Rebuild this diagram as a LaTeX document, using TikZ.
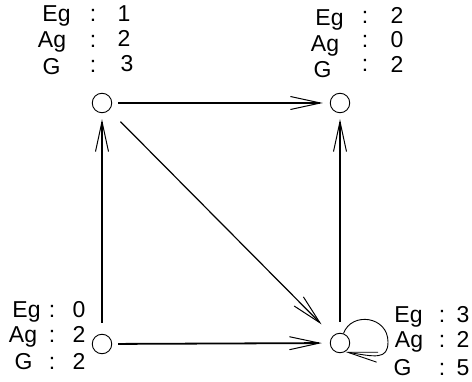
\documentclass[tikz,border=0pt]{standalone}
\usepackage{fontspec}
\setmainfont{Liberation Sans}
\usetikzlibrary{arrows.meta}
\begin{document}
\begin{tikzpicture}[x=1pt,y=-1pt,
  state/.style={circle,draw,line width=0.9pt,minimum size=19.5pt,inner sep=0pt},
  edge/.style={line width=1.8pt,-{Straight Barb[length=30pt,width=13pt,line width=1pt]}},
  lbl/.style={anchor=base,inner sep=0pt,font=\fontsize{23}{27}\selectfont}]
\useasboundingbox (0,0) rectangle (472,382);
% states
\node[state] (tl) at (102,103) {};
\node[state] (tr) at (340,103) {};
\node[state] (bl) at (102,344) {};
\node[state] (br) at (340,343) {};
% edges
\draw[edge,shorten <=6pt,shorten >=7pt] (tl) -- (tr);
\draw[edge,shorten <=11pt,shorten >=6pt] (bl) -- (tl);
\draw[edge,shorten <=11pt,shorten >=6pt] (br) -- (tr);
\draw[edge,shorten <=6pt,shorten >=8pt] (bl) -- (br);
\draw[edge,line width=1.2pt,shorten <=16pt,shorten >=16pt] (tl) -- (br);
\coordinate (loopr) at (388,342);
\draw[line width=0.9pt,-{Straight Barb[length=30pt,width=10pt,line width=0.9pt]}]
  (br.70) .. controls +(8,-22) and +(0,-26) .. (loopr)
  .. controls +(0,18) and +(30,5) .. (br.-60);
% labels top-left
\node[lbl] (tlEg) at (56.5,22) {Eg};
\node[lbl] (tlAg) at (52,48) {Ag};
\node[lbl] (tlG) at (51.5,75) {G};
\node[lbl] (tlc1) at (93,22) {:};
\node[lbl] (tlc2) at (93,48) {:};
\node[lbl] (tlc3) at (93,73) {:};
\node[lbl] (tlv1) at (124,22) {1};
\node[lbl] (tlv2) at (124,47) {2};
\node[lbl] (tlv3) at (127,72) {3};
% labels top-right
\node[lbl] (trEg) at (329.5,26) {Eg};
\node[lbl] (trAg) at (325,52) {Ag};
\node[lbl] (trG) at (322.5,78) {G};
\node[lbl] (trc1) at (365,24) {:};
\node[lbl] (trc2) at (365,48) {:};
\node[lbl] (trc3) at (365,72) {:};
\node[lbl] (trv1) at (397,24) {2};
\node[lbl] (trv2) at (397,48) {0};
\node[lbl] (trv3) at (397,73) {2};
% labels bottom-left
\node[lbl] (blEg) at (26.5,318) {Eg};
\node[lbl] (blAg) at (23,343) {Ag};
\node[lbl] (blG) at (23.5,370) {G};
\node[lbl] (blc1) at (52,318) {:};
\node[lbl] (blc2) at (52,343) {:};
\node[lbl] (blc3) at (52,370) {:};
\node[lbl] (blv1) at (79,318) {0};
\node[lbl] (blv2) at (79,343) {2};
\node[lbl] (blv3) at (79,370) {2};
% labels bottom-right
\node[lbl] (brEg) at (408.5,323) {Eg};
\node[lbl] (brAg) at (409,348) {Ag};
\node[lbl] (brG) at (402.5,376) {G};
\node[lbl] (brc1) at (442,323) {:};
\node[lbl] (brc2) at (442,348) {:};
\node[lbl] (brc3) at (442,376) {:};
\node[lbl] (brv1) at (463,323) {3};
\node[lbl] (brv2) at (463,348) {2};
\node[lbl] (brv3) at (463,376) {5};
\end{tikzpicture}
\end{document}
